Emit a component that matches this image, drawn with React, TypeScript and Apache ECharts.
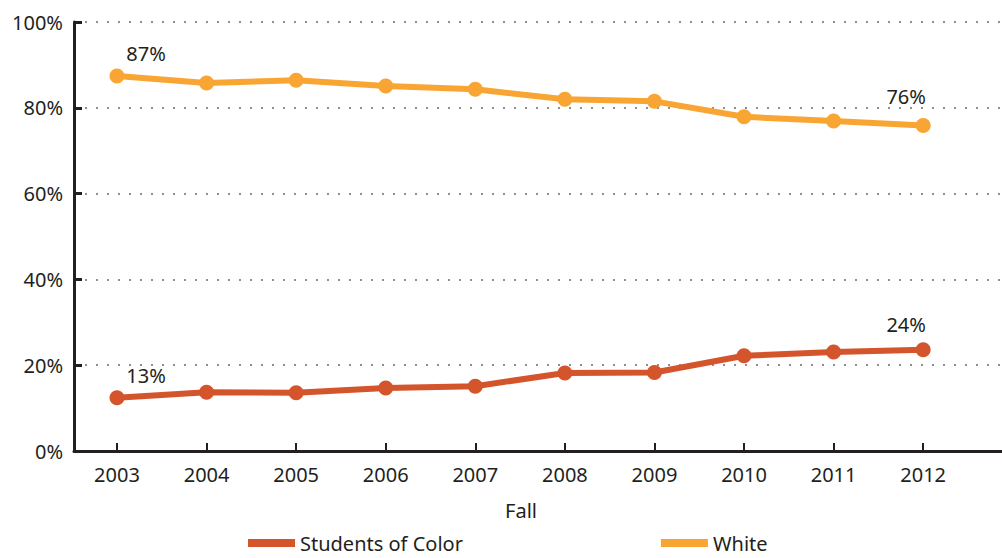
import React, { useEffect, useRef } from "react";
import * as echarts from "echarts";

const years = [2003, 2004, 2005, 2006, 2007, 2008, 2009, 2010, 2011, 2012];
const studentsOfColor = [12.4, 13.7, 13.6, 14.7, 15.1, 18.2, 18.3, 22.2, 23.1, 23.6];
const white = [87.4, 85.8, 86.4, 85.1, 84.3, 82.0, 81.5, 77.9, 76.9, 75.9];
const socLabels = ["13%", "24%"];
const whiteLabels = ["87%", "76%"];
const yTicks = [0, 20, 40, 60, 80, 100];

const FONT = "Noto Sans";
const TEXT = "#231F20";
const ORANGE = "#F9A533";
const RED = "#D4542C";

function buildData(vals: number[], labels: string[], offs: number[][]) {
  return vals.map((v, i) => {
    const item: any = { value: [years[i], v] };
    if (i === 0) {
      item.label = { show: true, formatter: labels[0], offset: offs[0] };
    } else if (i === vals.length - 1) {
      item.label = { show: true, formatter: labels[1], offset: offs[1] };
    }
    return item;
  });
}

export default function App() {
  const ref = useRef<HTMLDivElement>(null);
  useEffect(() => {
    if (!ref.current) return;
    const chart = echarts.init(ref.current, null, { renderer: "svg" });
    const labelStyle = {
      show: false,
      position: "top",
      distance: 5,
      color: TEXT,
      fontFamily: FONT,
      fontSize: 20,
    };
    chart.setOption({
      animation: false,
      backgroundColor: "#fff",
      textStyle: { fontFamily: FONT },
      grid: { left: 74, right: 0, top: 22, bottom: 107, containLabel: false },
      legend: {
        left: 248,
        top: 533,
        padding: 0,
        icon: "rect",
        itemWidth: 47,
        itemHeight: 8,
        itemGap: 198,
        textStyle: { color: TEXT, fontFamily: FONT, fontSize: 20 },
        data: ["Students of Color", "White"],
      },
      xAxis: {
        type: "value",
        min: 2002.52,
        max: 2012.88,
        axisLine: { show: true, onZero: false, lineStyle: { color: TEXT, width: 3 } },
        axisTick: {
          show: true,
          inside: true,
          length: 8,
          customValues: years,
          lineStyle: { color: TEXT, width: 2 },
        },
        axisLabel: {
          show: true,
          customValues: years,
          margin: 13,
          color: TEXT,
          fontFamily: FONT,
          fontSize: 20,
          formatter: (v: number) => String(Math.round(v)),
        },
        splitLine: { show: false },
        name: "Fall",
        nameLocation: "middle",
        nameGap: 49,
        nameTextStyle: { color: TEXT, fontFamily: FONT, fontSize: 20, padding: [0, 34, 0, 0] },
      },
      yAxis: {
        type: "value",
        min: 0,
        max: 100,
        interval: 20,
        axisLine: { show: true, lineStyle: { color: TEXT, width: 3 } },
        axisTick: { show: true, inside: true, length: 8, lineStyle: { color: TEXT, width: 3 } },
        axisLabel: {
          margin: 11,
          color: TEXT,
          fontFamily: FONT,
          fontSize: 20,
          customValues: yTicks,
          formatter: (v: number) => v + "%",
        },
        splitLine: {
          show: true,
          lineStyle: { color: "#8f8f8f", width: 2.2, type: [2, 9] },
        },
      },
      series: [
        {
          name: "Students of Color",
          type: "line",
          data: buildData(studentsOfColor, socLabels, [[29, 0], [-17, -3]]),
          symbol: "circle",
          symbolSize: 15,
          lineStyle: { color: RED, width: 6 },
          itemStyle: { color: RED },
          label: labelStyle,
          z: 3,
        },
        {
          name: "White",
          type: "line",
          data: buildData(white, whiteLabels, [[29, 0], [-17, -6]]),
          symbol: "circle",
          symbolSize: 15,
          lineStyle: { color: ORANGE, width: 6 },
          itemStyle: { color: ORANGE },
          label: labelStyle,
          z: 3,
        },
      ],
    });
    return () => chart.dispose();
  }, []);
  return (
    <div
      ref={ref}
      style={{ position: "fixed", left: 0, top: 0, width: 1002, height: 558 }}
    />
  );
}
